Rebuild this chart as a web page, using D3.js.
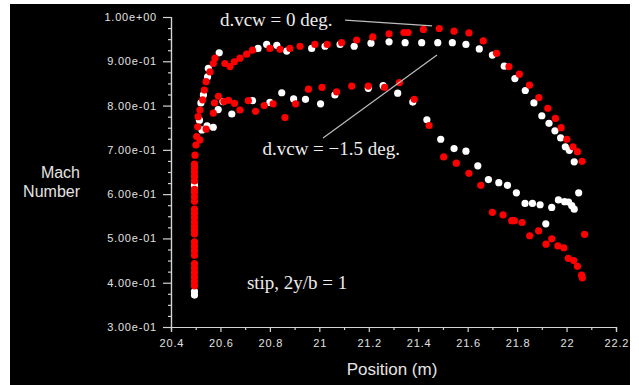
<!DOCTYPE html>
<html><head><meta charset="utf-8">
<script src="https://cdn.jsdelivr.net/npm/d3@7/dist/d3.min.js"></script>
<style>body{margin:0;background:#fff;} svg{display:block;}</style>
</head><body>
<svg id="c" width="639" height="385"></svg>
<script>
// ---- tick data ----
const xTicks = [20.4,20.6,20.8,21.0,21.2,21.4,21.6,21.8,22.0,22.2];
const xTickLabels = ["20.4","20.6","20.8","21","21.2","21.4","21.6","21.8","22","22.2"];
const xMinorTicks = [20.5,20.7,20.9,21.1,21.3,21.5,21.7,21.9,22.1];
const yTicks = [0.3,0.4,0.5,0.6,0.7,0.8,0.9,1.0];
const yTickLabels = ["3.00e-01","4.00e-01","5.00e-01","6.00e-01","7.00e-01","8.00e-01","9.00e-01","1.00e+00"];
const yMinorTicks = [0.325,0.35,0.375,0.425,0.45,0.475,0.525,0.55,0.575,0.625,0.65,0.675,0.725,0.75,0.775,0.825,0.85,0.875,0.925,0.95,0.975];

// ---- series: vertical stack at the leading edge ----
const stackWhite = [[20.495,0.372],[20.495,0.380],[20.495,0.620]];
const stackRed = [[20.495,0.393],[20.495,0.403],[20.495,0.413],[20.495,0.423],[20.495,0.433],[20.495,0.443],
  [20.495,0.462],[20.495,0.472],[20.495,0.482],[20.495,0.492],
  [20.495,0.510],[20.495,0.518],[20.495,0.527],
  [20.495,0.537],[20.495,0.547],[20.495,0.557],[20.495,0.566],
  [20.495,0.584],[20.495,0.594],[20.495,0.604],[20.495,0.611],
  [20.495,0.630],[20.495,0.640],[20.495,0.650],[20.495,0.659],[20.495,0.668],
  [20.497,0.688],[20.501,0.711]];

// ---- d.vcw = 0 deg (upper curve) ----
const upperWhite = [[20.515,0.767],[20.521,0.806],[20.531,0.824],[20.548,0.865],[20.551,0.884],[20.595,0.919],
  [20.752,0.929],[20.787,0.938],[20.828,0.936],[20.868,0.923],[20.969,0.929],[21.023,0.934],[21.084,0.938],
  [21.141,0.934],[21.209,0.941],[21.282,0.944],[21.347,0.942],[21.414,0.942],[21.479,0.942],[21.538,0.942],
  [21.593,0.938],[21.647,0.928],[21.700,0.914],[21.748,0.889],[21.791,0.861],[21.833,0.834],[21.868,0.806],
  [21.900,0.777],[21.929,0.760],[21.953,0.743],[21.976,0.727],[21.995,0.707],[22.011,0.699],[22.031,0.673]];
const upperRed = [[20.504,0.730],[20.508,0.752],[20.510,0.775],[20.517,0.790],[20.528,0.813],[20.535,0.835],
  [20.542,0.854],[20.558,0.876],[20.571,0.895],[20.578,0.907],[20.618,0.895],[20.639,0.888],[20.656,0.899],
  [20.679,0.907],[20.706,0.916],[20.730,0.925],[20.800,0.929],[20.841,0.927],[20.881,0.929],[20.922,0.934],
  [20.982,0.938],[21.032,0.938],[21.090,0.942],[21.151,0.948],[21.216,0.955],[21.282,0.962],[21.342,0.965],
  [21.359,0.965],[21.421,0.972],[21.485,0.974],[21.545,0.968],[21.605,0.964],[21.663,0.946],[21.717,0.918],
  [21.767,0.888],[21.809,0.871],[21.850,0.846],[21.888,0.818],[21.924,0.794],[21.955,0.771],[21.978,0.750],
  [22.001,0.724],[22.026,0.707],[22.044,0.696],[22.063,0.674]];

// ---- d.vcw = -1.5 deg (lower curve) ----
const lowerWhite = [[20.525,0.745],[20.546,0.754],[20.571,0.751],[20.591,0.791],[20.610,0.809],[20.646,0.781],
  [20.730,0.811],[20.800,0.807],[20.848,0.829],[20.896,0.815],[20.944,0.814],[21.005,0.804],[21.063,0.824],
  [21.198,0.839],[21.258,0.845],[21.317,0.828],[21.378,0.808],[21.435,0.768],[21.491,0.724],[21.545,0.703],
  [21.593,0.697],[21.641,0.664],[21.684,0.633],[21.726,0.626],[21.761,0.620],[21.797,0.603],[21.832,0.579],
  [21.862,0.579],[21.893,0.576],[21.916,0.533],[21.940,0.570],[21.967,0.587],[21.992,0.583],[22.008,0.582],
  [22.021,0.574],[22.031,0.566],[22.049,0.603]];
const lowerRed = [[20.517,0.722],[20.542,0.747],[20.571,0.783],[20.576,0.806],[20.592,0.821],[20.614,0.809],
  [20.633,0.812],[20.657,0.805],[20.679,0.790],[20.713,0.811],[20.742,0.787],[20.777,0.800],[20.813,0.804],
  [20.861,0.773],[20.904,0.804],[20.956,0.837],[21.011,0.841],[21.070,0.831],[21.131,0.844],[21.198,0.844],
  [21.264,0.841],[21.324,0.852],[21.384,0.814],[21.444,0.755],[21.503,0.684],[21.554,0.670],[21.605,0.647],
  [21.653,0.620],[21.700,0.559],[21.743,0.553],[21.778,0.540],[21.789,0.540],[21.820,0.536],[21.851,0.506],
  [21.887,0.517],[21.917,0.487],[21.940,0.499],[21.965,0.483],[21.989,0.479],[22.007,0.455],[22.029,0.450],
  [22.044,0.437],[22.061,0.417],[22.064,0.411],[22.073,0.509]];

// ---- annotations (data units) ----
const annoTexts = [
  {text:"d.vcw = 0 deg.", x:20.598, y:0.980},
  {text:"d.vcw = \u22121.5 deg.", x:20.770, y:0.688},
  {text:"stip, 2y/b = 1", x:20.707, y:0.386}
];
const annoLines = [
  {x1:21.104, y1:0.993, x2:21.456, y2:0.980},
  {x1:21.015, y1:0.727, x2:21.476, y2:0.914}
];

const svg = d3.select("#c");
svg.append("rect").attr("x",10).attr("y",4).attr("width",620).attr("height",381).attr("fill","#000");

const x = d3.scaleLinear().domain([20.4,22.2]).range([171,616]);
const y = d3.scaleLinear().domain([0.3,1.0]).range([327,17]);
const axCol = "#d4d4d4";

// x axis
const gx = svg.append("g").attr("transform","translate(0,327)");
gx.call(d3.axisBottom(x).tickValues(xTicks).tickSize(5).tickFormat((d,i)=>xTickLabels[i]));
const gxm = svg.append("g").attr("transform","translate(0,327)");
gxm.call(d3.axisBottom(x).tickValues(xMinorTicks).tickSize(3).tickFormat(""));
// y axis
const gy = svg.append("g").attr("transform","translate(171,0)");
gy.call(d3.axisLeft(y).tickValues(yTicks).tickSize(8).tickFormat((d,i)=>yTickLabels[i]));
const gym = svg.append("g").attr("transform","translate(171,0)");
gym.call(d3.axisLeft(y).tickValues(yMinorTicks).tickSize(3).tickFormat(""));

svg.selectAll(".domain").attr("stroke",axCol).attr("stroke-width",1.2);
svg.selectAll(".tick line").attr("stroke",axCol).attr("stroke-width",1.2);
svg.selectAll(".tick text").attr("fill","#e0e0e0").attr("font-family","Liberation Sans, Arial, sans-serif")
  .attr("font-size",11).attr("letter-spacing","0.8px");
gx.selectAll(".tick text").attr("y",12).attr("dy","0.71em").attr("dx","0.4px");
gy.selectAll(".tick text").attr("x",-14);

// axis titles
const tStyle = (s,fs) => s.attr("fill","#e4e4e4").attr("font-family","Liberation Sans, Arial, sans-serif").attr("font-size",fs);
tStyle(svg.append("text").attr("x",80).attr("y",178).attr("text-anchor","end").text("Mach"),16);
tStyle(svg.append("text").attr("x",80).attr("y",197).attr("text-anchor","end").text("Number"),16);
tStyle(svg.append("text").attr("x",392).attr("y",375).attr("text-anchor","middle").text("Position (m)"),17);

// points: white first, red on top
const R = 3.6;
function dots(data, col){
  svg.append("g").selectAll("circle").data(data).join("circle")
    .attr("cx",d=>x(d[0])).attr("cy",d=>y(d[1])).attr("r",R).attr("fill",col);
}
dots(stackWhite,"#ffffff");
dots(upperWhite,"#ffffff");
dots(lowerWhite,"#ffffff");
dots(stackRed,"#ff0000");
dots(upperRed,"#ff0000");
dots(lowerRed,"#ff0000");

// annotations
svg.append("g").selectAll("line").data(annoLines).join("line")
  .attr("x1",d=>x(d.x1)).attr("y1",d=>y(d.y1)).attr("x2",d=>x(d.x2)).attr("y2",d=>y(d.y2))
  .attr("stroke","#bdbdbd").attr("stroke-width",1.2);
svg.append("g").selectAll("text").data(annoTexts).join("text")
  .attr("x",d=>x(d.x)).attr("y",d=>y(d.y)).text(d=>d.text)
  .attr("fill","#ececec").attr("font-family","Liberation Serif, Times New Roman, serif").attr("font-size",19);
</script>
</body></html>
